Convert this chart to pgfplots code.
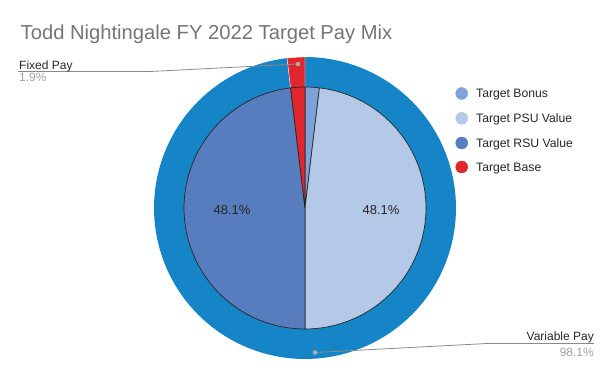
\documentclass[border=0pt]{standalone}
\usepackage{pgfplots}
\pgfplotsset{compat=1.18}
\usepackage{fontspec}
\setmainfont{Liberation Sans}
\definecolor{cRing}{HTML}{1685C7}
\definecolor{cBonus}{HTML}{7EA3DA}
\definecolor{cPSU}{HTML}{B4C8E8}
\definecolor{cRSU}{HTML}{587DBE}
\definecolor{cBase}{HTML}{E2262E}
\definecolor{cTitle}{HTML}{757575}
\definecolor{cLead}{HTML}{8A8A8A}
\definecolor{cSub}{HTML}{A0A0A0}
% inner pie values (percent), clockwise from 12 o'clock
\def\vBonus{1.9}
\def\vPSU{48.1}
\def\vRSU{48.1}
\def\vBase{1.9}
% outer ring values (percent)
\def\vVariable{98.1}
\def\vFixed{1.9}
\def\cx{305}
\def\cy{208}
\def\ri{121}
\def\ro{151}
\begin{document}
\begin{tikzpicture}
\pgfmathsetmacro{\aA}{3.6*\vBonus}
\pgfmathsetmacro{\aB}{\aA+3.6*\vPSU}
\pgfmathsetmacro{\aC}{\aB+3.6*\vRSU}
\pgfmathsetmacro{\aD}{\aC+3.6*\vBase}
\pgfmathsetmacro{\oA}{3.6*\vVariable}
\pgfmathsetmacro{\oB}{\oA+3.6*\vFixed}
\begin{axis}[scale only axis, width=614pt, height=380pt,
  xmin=0, xmax=614, ymin=0, ymax=380, y dir=reverse,
  hide axis, clip=false]
\addplot[draw=none, forget plot] coordinates {(0,0) (614,380)};
% outer ring
\addplot[fill=cRing, draw=none, domain=0:\oA, samples=150, variable=\t, forget plot]
  ({\cx+\ro*sin(\t)},{\cy-\ro*cos(\t)}) -- (axis cs:\cx,\cy) -- cycle;
\addplot[fill=cBase, draw=white, line width=0.4pt, domain=\oA:\oB, samples=10, variable=\t, forget plot]
  ({\cx+\ro*sin(\t)},{\cy-\ro*cos(\t)}) -- (axis cs:\cx,\cy) -- cycle;
% inner pie
\addplot[fill=cBonus, draw=black!85, line width=0.7pt, line join=round, domain=0:\aA, samples=10, variable=\t, forget plot]
  ({\cx+\ri*sin(\t)},{\cy-\ri*cos(\t)}) -- (axis cs:\cx,\cy) -- cycle;
\addplot[fill=cPSU, draw=black!85, line width=0.7pt, line join=round, domain=\aA:\aB, samples=100, variable=\t, forget plot]
  ({\cx+\ri*sin(\t)},{\cy-\ri*cos(\t)}) -- (axis cs:\cx,\cy) -- cycle;
\addplot[fill=cRSU, draw=black!85, line width=0.7pt, line join=round, domain=\aB:\aC, samples=100, variable=\t, forget plot]
  ({\cx+\ri*sin(\t)},{\cy-\ri*cos(\t)}) -- (axis cs:\cx,\cy) -- cycle;
\addplot[fill=cBase, draw=black!85, line width=0.7pt, line join=round, domain=\aC:\aD, samples=10, variable=\t, forget plot]
  ({\cx+\ri*sin(\t)},{\cy-\ri*cos(\t)}) -- (axis cs:\cx,\cy) -- cycle;
% slice labels
\node[font=\fontsize{13}{15}\selectfont, text=black!85] at (axis cs:232,210) {48.1\%};
\node[font=\fontsize{13}{15}\selectfont, text=black!85] at (axis cs:381,210) {48.1\%};
% leader lines
\addplot[cLead, line width=0.8pt, forget plot] coordinates {(298,64) (150,71.5) (18,71.5)};
\addplot[only marks, mark=*, mark size=2pt, cLead!70, forget plot] coordinates {(298,64)};
\addplot[cLead, line width=0.8pt, forget plot] coordinates {(315,352.5) (487,343.5) (594,343.5)};
\addplot[only marks, mark=*, mark size=2pt, cLead!70, forget plot] coordinates {(315,352.5)};
\node[anchor=base west, inner sep=0pt, font=\fontsize{12}{14}\selectfont, text=black!85] at (axis cs:19,69) {Fixed Pay};
\node[anchor=base west, inner sep=0pt, font=\fontsize{12}{14}\selectfont, text=cSub] at (axis cs:19,81.5) {1.9\%};
\node[anchor=base east, inner sep=0pt, font=\fontsize{12}{14}\selectfont, text=black!85] at (axis cs:594,340.5) {Variable Pay};
\node[anchor=base east, inner sep=0pt, font=\fontsize{12}{14}\selectfont, text=cSub] at (axis cs:594,356.5) {98.1\%};
% legend
\addplot[only marks, mark=*, mark size=6pt, cBonus, forget plot] coordinates {(461.7,93.5)};
\addplot[only marks, mark=*, mark size=6pt, cPSU, forget plot] coordinates {(461.7,118.3)};
\addplot[only marks, mark=*, mark size=6pt, cRSU, forget plot] coordinates {(461.7,143)};
\addplot[only marks, mark=*, mark size=6pt, cBase, forget plot] coordinates {(461.7,167)};
\node[anchor=base west, inner sep=0pt, font=\fontsize{12.2}{14}\selectfont, text=black!85] at (axis cs:476,97.9) {Target Bonus};
\node[anchor=base west, inner sep=0pt, font=\fontsize{12.2}{14}\selectfont, text=black!85] at (axis cs:476,122.7) {Target PSU Value};
\node[anchor=base west, inner sep=0pt, font=\fontsize{12.2}{14}\selectfont, text=black!85] at (axis cs:476,147.4) {Target RSU Value};
\node[anchor=base west, inner sep=0pt, font=\fontsize{12.2}{14}\selectfont, text=black!85] at (axis cs:476,171.4) {Target Base};
% title
\node[anchor=base west, inner sep=0pt, font=\fontsize{20.2}{24}\selectfont, text=cTitle] at (axis cs:20.5,39.5) {Todd Nightingale FY 2022 Target Pay Mix};
\end{axis}
\end{tikzpicture}
\end{document}
